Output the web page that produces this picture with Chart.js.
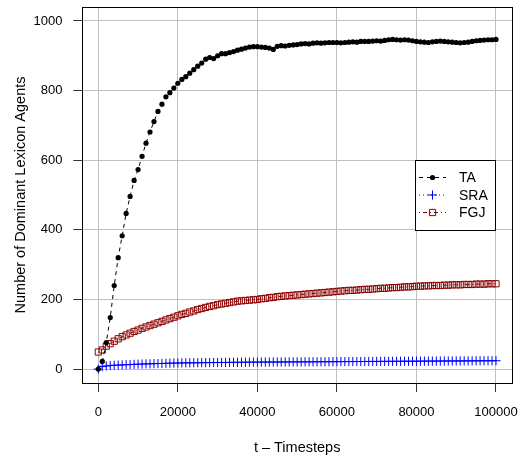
<!DOCTYPE html>
<html>
<head>
<meta charset="utf-8">
<script src="https://cdn.jsdelivr.net/npm/chart.js@4.4.1/dist/chart.umd.min.js"></script>
<style>
  html, body { margin: 0; padding: 0; background: #fff; }
  #wrap { width: 524px; height: 457px; }
</style>
</head>
<body>
<div id="wrap"><canvas id="agents_chart" width="524" height="457"></canvas></div>
<script>
// timesteps sampled every 1000
const timesteps = [
  0, 1000, 2000, 3000, 4000, 5000, 6000, 7000, 8000, 9000,
  10000, 11000, 12000, 13000, 14000, 15000, 16000, 17000, 18000, 19000,
  20000, 21000, 22000, 23000, 24000, 25000, 26000, 27000, 28000, 29000,
  30000, 31000, 32000, 33000, 34000, 35000, 36000, 37000, 38000, 39000,
  40000, 41000, 42000, 43000, 44000, 45000, 46000, 47000, 48000, 49000,
  50000, 51000, 52000, 53000, 54000, 55000, 56000, 57000, 58000, 59000,
  60000, 61000, 62000, 63000, 64000, 65000, 66000, 67000, 68000, 69000,
  70000, 71000, 72000, 73000, 74000, 75000, 76000, 77000, 78000, 79000,
  80000, 81000, 82000, 83000, 84000, 85000, 86000, 87000, 88000, 89000,
  90000, 91000, 92000, 93000, 94000, 95000, 96000, 97000, 98000, 99000,
  100000
];

const taAgents = [
  0, 22, 76, 148, 240, 320, 383, 447, 496, 542,
  573, 611, 649, 681, 711, 740, 761, 782, 794, 807,
  821, 832, 840, 850, 860, 870, 879, 890, 895, 892,
  900, 906, 906, 909, 912, 916, 919, 922, 925, 926,
  926, 925, 924, 922, 918, 927, 929, 928, 930, 931,
  932, 934, 935, 934, 936, 937, 936, 937, 938, 938,
  938, 937, 938, 939, 940, 939, 941, 941, 941, 942,
  943, 942, 944, 946, 947, 946, 945, 946, 945, 943,
  941, 940, 939, 938, 940, 941, 942, 941, 940, 939,
  938, 937, 938, 939, 941, 943, 944, 945, 946, 946,
  947
];

const sraAgents = [
  0, 7, 9, 10, 11, 11.5, 12, 12.5, 13, 13.5,
  14, 14.5, 15, 15, 15.5, 16, 16, 16.5, 17, 17,
  17.5, 17.6, 17.8, 17.9, 18, 18.2, 18.3, 18.5, 18.6, 18.8,
  18.9, 19, 19.1, 19.2, 19.4, 19.5, 19.6, 19.7, 19.8, 19.9,
  20, 20.1, 20.1, 20.2, 20.3, 20.3, 20.4, 20.5, 20.5, 20.6,
  20.7, 20.7, 20.8, 20.9, 20.9, 21, 21.1, 21.1, 21.2, 21.3,
  21.3, 21.4, 21.5, 21.5, 21.6, 21.7, 21.7, 21.8, 21.9, 21.9,
  22, 22.1, 22.1, 22.2, 22.3, 22.3, 22.4, 22.5, 22.5, 22.6,
  22.7, 22.7, 22.8, 22.9, 22.9, 23, 23.1, 23.1, 23.2, 23.3,
  23.3, 23.4, 23.5, 23.5, 23.6, 23.7, 23.7, 23.8, 23.9, 23.9,
  24
];

const fgjAgents = [
  49, 55, 66, 73, 80, 87, 93, 98, 103, 108,
  112, 117, 121, 125, 129, 133, 137, 141, 145, 149,
  153, 157, 160, 164, 167, 171, 174, 177, 180, 182,
  185, 187, 189, 191, 193, 195, 196, 197, 198, 199,
  200, 202, 203, 205, 206, 208, 209, 210, 211, 212,
  213, 214, 215, 216, 217, 218, 219, 220, 221, 222,
  223, 224, 225, 226, 226, 227, 228, 229, 229, 230,
  231, 232, 232, 233, 234, 234, 235, 236, 236, 237,
  238, 238, 239, 239, 240, 240, 240, 241, 241, 242,
  242, 242, 243, 243, 243, 244, 244, 244, 245, 245,
  245
];

const xTicks = [0, 20000, 40000, 60000, 80000, 100000];
const yTicks = [0, 200, 400, 600, 800, 1000];

const FONT = "'Liberation Sans', Arial, Helvetica, sans-serif";

function toPoints(ys) {
  return timesteps.map((t, i) => ({ x: t, y: ys[i] }));
}

// keep tick labels from pushing the plot region around
function noLabelPadding(scale) {
  scale.paddingLeft = 0;
  scale.paddingRight = 0;
  scale.paddingTop = 0;
  scale.paddingBottom = 0;
}

// box around the plot region plus an R style legend (line + symbol + name)
const plotFrame = {
  id: 'plotFrame',
  afterDraw(chart) {
    const { ctx, chartArea: a } = chart;
    ctx.save();
    ctx.strokeStyle = '#000';
    ctx.lineWidth = 1;
    ctx.strokeRect(Math.round(a.left) + 0.5, Math.round(a.top) + 0.5,
      Math.round(a.right - a.left), Math.round(a.bottom - a.top));

    const box = { left: 415.5, top: 160.5, width: 80, height: 70 };
    ctx.fillStyle = '#fff';
    ctx.fillRect(box.left, box.top, box.width, box.height);
    ctx.strokeStyle = '#000';
    ctx.strokeRect(box.left, box.top, box.width, box.height);
    const rows = [177.5, 195, 212.5];
    chart.data.datasets.forEach((ds, i) => {
      const y = rows[i];
      ctx.save();
      ctx.strokeStyle = ds.borderColor;
      ctx.lineWidth = 1;
      ctx.setLineDash(ds.borderDash || []);
      ctx.beginPath();
      ctx.moveTo(419, y);
      ctx.lineTo(446, y);
      ctx.stroke();
      ctx.restore();

      ctx.save();
      ctx.strokeStyle = ds.pointBorderColor;
      ctx.fillStyle = ds.pointBackgroundColor;
      ctx.lineWidth = ds.pointBorderWidth;
      Chart.helpers.drawPoint(ctx, {
        pointStyle: ds.pointStyle,
        radius: ds.pointRadius,
        borderWidth: ds.pointBorderWidth
      }, 432.5, y);
      ctx.restore();

      ctx.fillStyle = '#000';
      ctx.font = '14px ' + FONT;
      ctx.textBaseline = 'middle';
      ctx.textAlign = 'left';
      ctx.fillText(ds.label, 459, y + 1);
    });
    ctx.restore();
  }
};

const ctx = document.getElementById('agents_chart').getContext('2d');
const agents_chart = new Chart(ctx, {
  type: 'line',
  data: {
    datasets: [
      {
        label: 'TA',
        data: toPoints(taAgents),
        borderColor: '#000000',
        backgroundColor: '#000000',
        borderWidth: 1,
        borderDash: [4, 4],
        pointStyle: 'circle',
        pointRadius: 2.6,
        pointBorderWidth: 0,
        pointBackgroundColor: '#000000',
        pointBorderColor: '#000000'
      },
      {
        label: 'SRA',
        data: toPoints(sraAgents),
        borderColor: '#0000FF',
        backgroundColor: '#0000FF',
        borderWidth: 1,
        borderDash: [1, 3],
        pointStyle: 'cross',
        pointRadius: 4.6,
        pointBorderWidth: 1,
        pointBackgroundColor: '#0000FF',
        pointBorderColor: '#0000FF'
      },
      {
        label: 'FGJ',
        data: toPoints(fgjAgents),
        borderColor: '#8B0000',
        backgroundColor: 'rgba(0,0,0,0)',
        borderWidth: 1,
        borderDash: [1, 3, 4, 3],
        pointStyle: 'rect',
        pointRadius: 4.4,
        pointBorderWidth: 1,
        pointBackgroundColor: 'rgba(0,0,0,0)',
        pointBorderColor: '#8B0000'
      }
    ]
  },
  options: {
    responsive: false,
    animation: false,
    events: [],
    clip: false,
    layout: { padding: { left: 0, top: 7, right: 12.1, bottom: 0 } },
    plugins: {
      legend: { display: false },
      tooltip: { enabled: false },
      title: { display: false }
    },
    scales: {
      x: {
        type: 'linear',
        min: -4000,
        max: 104000,
        afterBuildTicks: (scale) => { scale.ticks = xTicks.map(v => ({ value: v })); },
        afterFit: (scale) => { scale.height = 74; noLabelPadding(scale); },
        border: { display: false },
        grid: {
          color: '#C0C0C0',
          lineWidth: 1,
          drawTicks: true,
          tickLength: 9,
          tickColor: '#333333'
        },
        ticks: {
          color: '#000',
          font: { family: FONT, size: 13 },
          padding: 13,
          maxRotation: 0,
          autoSkip: false,
          callback: (v) => String(v)
        },
        title: {
          display: true,
          text: 't – Timesteps',
          color: '#000',
          font: { family: FONT, size: 14.5 },
          padding: { top: 0, bottom: 0 }
        }
      },
      y: {
        type: 'linear',
        min: -40,
        max: 1040,
        afterBuildTicks: (scale) => { scale.ticks = yTicks.map(v => ({ value: v })); },
        afterFit: (scale) => { scale.width = 82.4; noLabelPadding(scale); },
        border: { display: false },
        grid: {
          color: '#C0C0C0',
          lineWidth: 1,
          drawTicks: true,
          tickLength: 9,
          tickColor: '#333333'
        },
        ticks: {
          color: '#000',
          font: { family: FONT, size: 13 },
          padding: 11,
          autoSkip: false,
          callback: (v) => String(v)
        },
        title: {
          display: true,
          text: 'Number of Dominant Lexicon Agents',
          color: '#000',
          font: { family: FONT, size: 14.5 },
          padding: { top: 12, bottom: 0 }
        }
      }
    }
  },
  plugins: [plotFrame]
});
</script>
</body>
</html>
